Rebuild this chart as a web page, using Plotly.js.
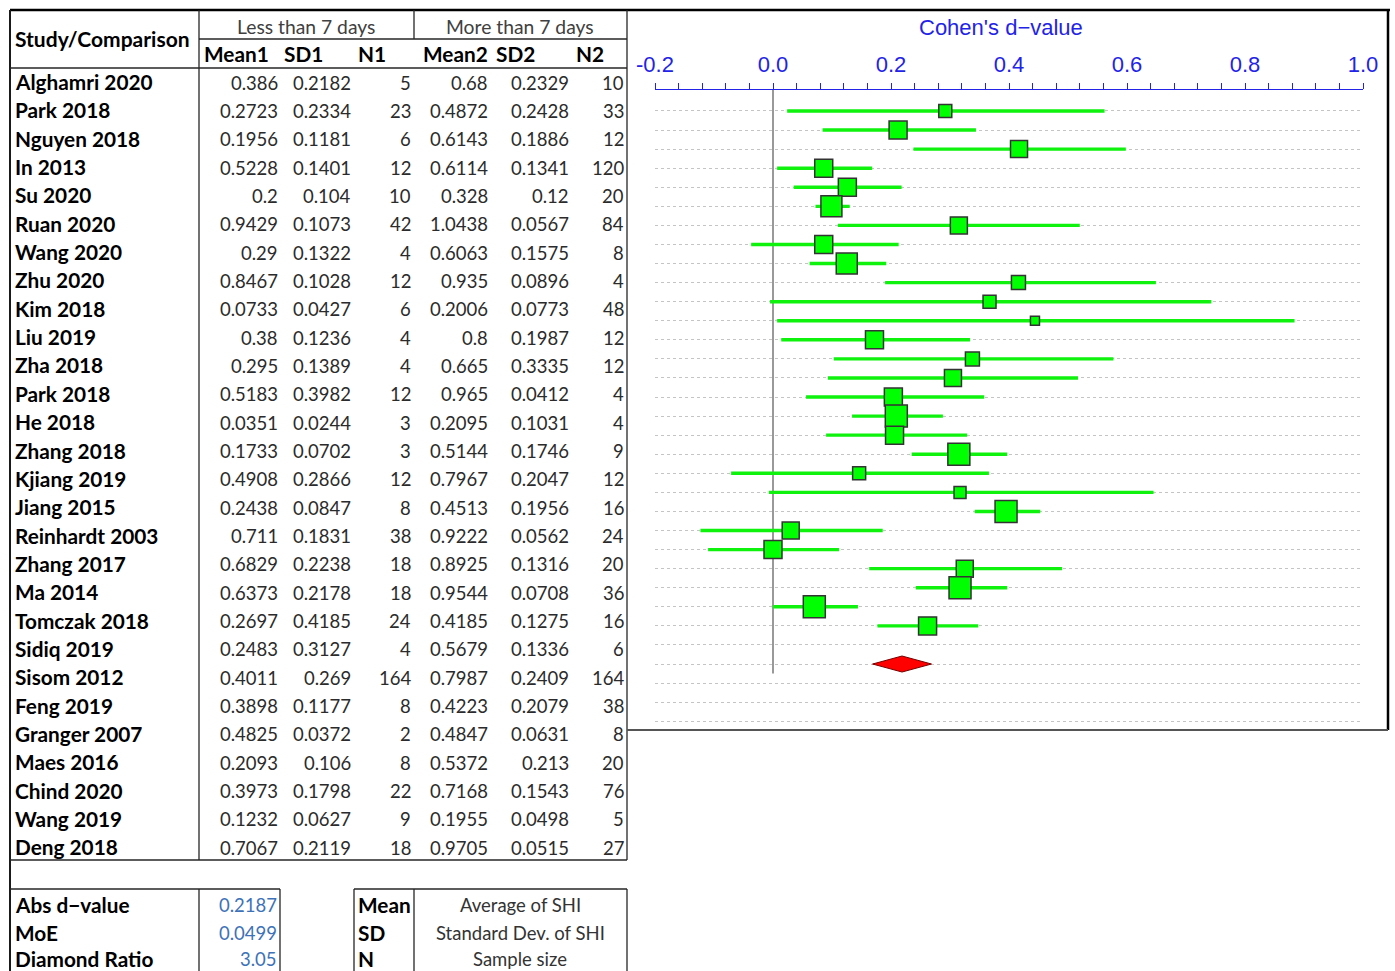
<!DOCTYPE html>
<html><head><meta charset="utf-8">
<script src="https://cdn.plot.ly/plotly-3.0.1.min.js"></script>
<style>html,body{margin:0;padding:0;background:#fff}#chart{width:1395px;height:971px}</style>
</head><body><div id="chart"></div>
<script>
// ---------------- DATA ----------------
const studies = ["Alghamri 2020","Park 2018","Nguyen 2018","In 2013","Su 2020","Ruan 2020","Wang 2020","Zhu 2020","Kim 2018","Liu 2019","Zha 2018","Park 2018","He 2018","Zhang 2018","Kjiang 2019","Jiang 2015","Reinhardt 2003","Zhang 2017","Ma 2014","Tomczak 2018","Sidiq 2019","Sisom 2012","Feng 2019","Granger 2007","Maes 2016","Chind 2020","Wang 2019","Deng 2018"];
const mean1 = [0.386,0.2723,0.1956,0.5228,0.2,0.9429,0.29,0.8467,0.0733,0.38,0.295,0.5183,0.0351,0.1733,0.4908,0.2438,0.711,0.6829,0.6373,0.2697,0.2483,0.4011,0.3898,0.4825,0.2093,0.3973,0.1232,0.7067];
const sd1 = [0.2182,0.2334,0.1181,0.1401,0.104,0.1073,0.1322,0.1028,0.0427,0.1236,0.1389,0.3982,0.0244,0.0702,0.2866,0.0847,0.1831,0.2238,0.2178,0.4185,0.3127,0.269,0.1177,0.0372,0.106,0.1798,0.0627,0.2119];
const n1 = [5,23,6,12,10,42,4,12,6,4,4,12,3,3,12,8,38,18,18,24,4,164,8,2,8,22,9,18];
const mean2 = [0.68,0.4872,0.6143,0.6114,0.328,1.0438,0.6063,0.935,0.2006,0.8,0.665,0.965,0.2095,0.5144,0.7967,0.4513,0.9222,0.8925,0.9544,0.4185,0.5679,0.7987,0.4223,0.4847,0.5372,0.7168,0.1955,0.9705];
const sd2 = [0.2329,0.2428,0.1886,0.1341,0.12,0.0567,0.1575,0.0896,0.0773,0.1987,0.3335,0.0412,0.1031,0.1746,0.2047,0.1956,0.0562,0.1316,0.0708,0.1275,0.1336,0.2409,0.2079,0.0631,0.213,0.1543,0.0498,0.0515];
const n2 = [10,33,12,120,20,84,8,4,48,12,12,4,4,9,12,16,24,20,36,16,6,164,38,8,20,76,5,27];

// forest plot (Cohen's d per row, with CI)
const dValue = [0.292,0.212,0.417,0.086,0.126,0.099,0.315,0.086,0.125,0.416,0.367,0.444,0.172,0.338,0.305,0.204,0.209,0.206,0.315,0.146,0.317,0.395,0.030,0.000,0.325,0.317,0.070,0.262];
const ciLow = [0.024,0.084,0.238,0.007,0.035,0.072,0.110,-0.037,0.062,0.190,-0.005,0.007,0.014,0.103,0.093,0.056,0.134,0.090,0.235,-0.071,-0.007,0.342,-0.123,-0.110,0.163,0.242,0.000,0.177];
const ciHigh = [0.562,0.344,0.598,0.168,0.218,0.130,0.520,0.213,0.192,0.649,0.743,0.884,0.334,0.577,0.517,0.358,0.288,0.329,0.397,0.366,0.645,0.453,0.186,0.112,0.490,0.397,0.144,0.348];
const absD = 0.2187;
const moe = 0.0499;
const diamondRatio = 3.05;

const xTickVals = [-0.2,0.0,0.2,0.4,0.6,0.8,1.0];
const xTickText = ["-0.2","0.0","0.2","0.4","0.6","0.8","1.0"];
const axisTitle = "Cohen's d\u2212value";
const groupHeaders = ["Less than 7 days","More than 7 days"];
const colHeaders = ["Mean1","SD1","N1","Mean2","SD2","N2"];
const studyHeader = "Study/Comparison";
const summaryLabels = ["Abs d\u2212value","MoE","Diamond Ratio"];
const legendKeys = ["Mean","SD","N"];
const legendDesc = ["Average of SHI","Standard Dev. of SHI","Sample size"];

// ---------------- STYLE / LAYOUT ----------------
const boxSize = [14,19,18,19,19,22,18,19,22,15,14,10,19,15,18,19,23,19,23,14,13,23,18,19,18,23,23,19];
const W = 1395, H = 971;
const px = x => x / W;
const py = y => 1 - y / H;
const FONT = "Lato, 'Open Sans', sans-serif";
const AX_FONT = "'Liberation Sans', Arial, sans-serif";
const BLUE = "#2323e8";
const BOLD_SIZE = 20.8;

const annotations = [];
function txt(text, x, y, anchor, opts) {
  opts = opts || {};
  annotations.push({
    text: opts.bold ? "<b>" + text + "</b>" : text,
    xref: "paper", yref: "paper", x: px(x), y: py(y),
    xanchor: anchor, yanchor: "middle", showarrow: false, borderpad: 0,
    font: {family: opts.family || FONT, size: opts.size || 18.5, color: opts.color || "#2b2b2b"}
  });
}
const shapes = [];
function ln(x0, y0, x1, y1, w, c) {
  shapes.push({type: "line", xref: "paper", yref: "paper",
    x0: px(x0), y0: py(y0), x1: px(x1), y1: py(y1),
    line: {color: c || "#262626", width: w || 1.3}});
}

// table header
txt(studyHeader, 14, 38.5, "left", {bold: true, color: "#000", size: 21});
txt(groupHeaders[0], 306, 26, "center", {color: "#404040", size: 19.3});
txt(groupHeaders[1], 520, 26, "center", {color: "#404040", size: 19.3});
const headerCenters = [236, 303, 372, 455, 515, 590];
colHeaders.forEach((h, i) => txt(h, headerCenters[i], 53.5, "center", {bold: true, color: "#000", size: BOLD_SIZE}));

// table rows
const rowY = i => 82.6 + 28.34 * i;
const colRight = [279, 352, 412, 489, 570, 625];
const cols = [mean1, sd1, n1, mean2, sd2, n2];
studies.forEach((s, i) => {
  const y = rowY(i);
  txt(s, 14, y - 1, "left", {bold: true, color: "#000", size: BOLD_SIZE});
  cols.forEach((c, j) => txt(String(c[i]), colRight[j], y, "right", {}));
});

// summary boxes
const sumY = [904.5, 932.5, 958.5];
const summaryValues = [absD.toFixed(4), moe.toFixed(4), diamondRatio.toFixed(2)];
summaryLabels.forEach((l, i) => {
  txt(l, 14, sumY[i], "left", {bold: true, color: "#000", size: BOLD_SIZE});
  txt(summaryValues[i], 278, sumY[i] + 0.5, "right", {color: "#3d72b8"});
  txt(legendKeys[i], 357, sumY[i], "left", {bold: true, color: "#000", size: BOLD_SIZE});
  txt(legendDesc[i], 520, sumY[i] + 0.5, "center", {color: "#333"});
});

// axis title (centred as in the reference)
txt(axisTitle, 1001, 27, "center", {family: AX_FONT, size: 22, color: BLUE});

// table grid lines
ln(10, 10, 1390, 10, 2.5, "#000");        // top frame
ln(10, 10, 10, 971, 2, "#1a1a1a");        // left frame
ln(199, 10, 199, 860);
ln(414, 10, 414, 39);
ln(199, 39, 627, 39);
ln(10, 68, 627, 68);
ln(627, 10, 627, 860);
ln(10, 860, 627, 860);
ln(1388, 10, 1388, 730, 2.5, "#000");     // right frame of plot
ln(627, 730, 1388, 730, 2, "#555");       // bottom of plot
// summary boxes
ln(10, 889, 280, 889); ln(199, 889, 199, 971); ln(280, 889, 280, 971);
ln(354, 889, 627, 889); ln(354, 889, 354, 971); ln(414, 889, 414, 971); ln(627, 889, 627, 971);

// zero reference line in data coords
shapes.push({type: "line", xref: "x", yref: "y", x0: 0, x1: 0, y0: -1.1, y1: 29.5,
  line: {color: "#555", width: 1.2}, layer: "below"});

const rowIdx = studies.map((_, i) => i);
const studyTrace = {
  type: "scatter", mode: "markers", x: dValue, y: rowIdx,
  marker: {symbol: "square", size: boxSize.map(s => s - 1), color: "#00ff00", opacity: 1,
    line: {color: "#333333", width: 1.5}},
  error_x: {type: "data", symmetric: false,
    array: ciHigh.map((h, i) => h - dValue[i]),
    arrayminus: ciLow.map((l, i) => dValue[i] - l),
    color: "#0ef20e", thickness: 3.4, width: 0},
  hoverinfo: "skip", showlegend: false
};
const dRow = studies.length + 1;
const diamond = {
  type: "scatter", mode: "lines", fill: "toself", fillcolor: "#ff0000",
  x: [absD - moe, absD, absD + moe, absD, absD - moe],
  y: [dRow, dRow - 0.42, dRow, dRow + 0.42, dRow],
  line: {color: "#7a0000", width: 1}, hoverinfo: "skip", showlegend: false
};

const gridRows = Array.from({length: 33}, (_, i) => i);
const layout = {
  width: W, height: H, margin: {l: 0, r: 0, t: 0, b: 0},
  paper_bgcolor: "#fff", plot_bgcolor: "rgba(0,0,0,0)", showlegend: false,
  xaxis: {
    domain: [px(655), px(1363)], range: [-0.2, 1.0], side: "top", anchor: "y",
    tickmode: "array", tickvals: xTickVals, ticktext: xTickText,
    ticks: "outside", ticklen: 6, tickwidth: 1, tickcolor: BLUE,
    minor: {tickmode: "linear", tick0: -0.2, dtick: 0.04, ticks: "outside", ticklen: 6, tickcolor: BLUE, tickwidth: 1, showgrid: false},
    showline: true, linecolor: BLUE, linewidth: 1.5, showgrid: false, zeroline: false,
    tickfont: {family: AX_FONT, size: 22, color: BLUE},
    ticklabelstandoff: 2,
    fixedrange: true
  },
  yaxis: {
    domain: [py(730), py(90)], range: [32.46, -1.10], anchor: "x",
    tickmode: "array", tickvals: gridRows, showticklabels: false, ticks: "",
    showgrid: true, gridcolor: "#c4c4c4", griddash: "dot", gridwidth: 1,
    zeroline: false, showline: false, fixedrange: true
  },
  annotations: annotations, shapes: shapes
};
Plotly.newPlot("chart", [studyTrace, diamond], layout, {displayModeBar: false, staticPlot: true});
</script>
</body></html>
